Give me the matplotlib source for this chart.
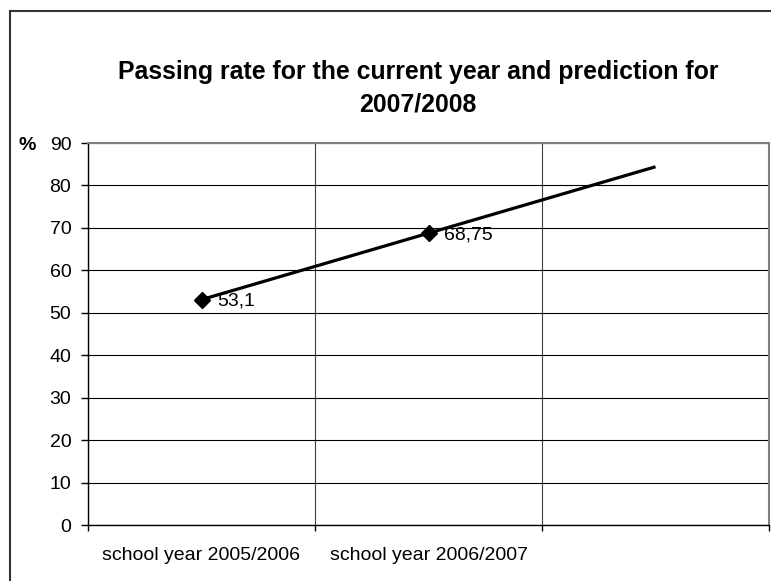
import numpy as np
import matplotlib
matplotlib.use("Agg")
import matplotlib.pyplot as plt
from matplotlib.lines import Line2D

# Chart data
categories = ["school year 2005/2006", "school year 2006/2007"]
passing_rate = [53.1, 68.75]
value_labels = ["53,1", "68,75"]
forecast_periods = 1

plt.rcParams['font.family'] = ['Liberation Sans', 'DejaVu Sans']

fig = plt.figure(figsize=(7.71, 5.81), dpi=100)
ax = fig.add_axes([88 / 771, 56 / 581, 681 / 771, 382 / 581])

x = np.arange(len(categories))

# data series (thin line, mostly hidden by the trendline)
ax.plot(x, passing_rate, color='#cc00cc', lw=0.6, zorder=2)

# linear trendline, forecast forward one period
slope, intercept = np.polyfit(x, passing_rate, 1)
x_trend = np.array([x[0], x[-1] + forecast_periods])
ax.plot(x_trend, slope * x_trend + intercept, color='black', lw=2.3, zorder=3,
        solid_capstyle='butt')

ax.plot(x, passing_rate, linestyle='none', marker='D', ms=8.5,
        color='black', zorder=5)
for xi, yi, lab in zip(x, passing_rate, value_labels):
    ax.annotate(lab, (xi, yi), xytext=(11, -1), textcoords='offset points',
                va='center', ha='left', fontsize=14, zorder=6)

# axes styling
n_slots = len(categories) + forecast_periods
ax.set_xlim(-0.5, n_slots - 0.5)
ax.set_ylim(0, 90)
ax.set_yticks(np.arange(0, 91, 10))
ax.set_xticks(x)
ax.set_xticklabels(categories)
ax.set_xticks(np.arange(-0.5, n_slots, 1), minor=True)
ax.tick_params(axis='x', which='major', length=0, pad=16, labelsize=14)
ax.tick_params(axis='x', which='minor', length=4, width=1, direction='out')
ax.tick_params(axis='y', length=5, width=1, direction='out', pad=7, labelsize=14)

ax.grid(axis='y', color='black', lw=0.8)
ax.grid(axis='x', which='minor', color='#404040', lw=0.8)
ax.set_axisbelow(True)

for side in ['left', 'bottom']:
    ax.spines[side].set_color('black')
    ax.spines[side].set_linewidth(1.0)
for side in ['top', 'right']:
    ax.spines[side].set_color('#808080')
    ax.spines[side].set_linewidth(1.5)

# title and unit label
fig.text(418 / 771, 1 - 88 / 581,
         "Passing rate for the current year and prediction for\n2007/2008",
         ha='center', va='center', fontsize=17.9, fontweight='bold',
         linespacing=1.45)
fig.text(27 / 771, 1 - 146 / 581, "%", ha='center', va='center',
         fontsize=14, fontweight='bold')

# chart area border
bx, by = 9.5 / 771, 1 - 11 / 581
fig.add_artist(Line2D([bx, bx], [0, by], color='#333333', lw=1.5,
                      transform=fig.transFigure))
fig.add_artist(Line2D([bx, 1], [by, by], color='#333333', lw=1.5,
                      transform=fig.transFigure))

fig.savefig("out.png", dpi=100)
